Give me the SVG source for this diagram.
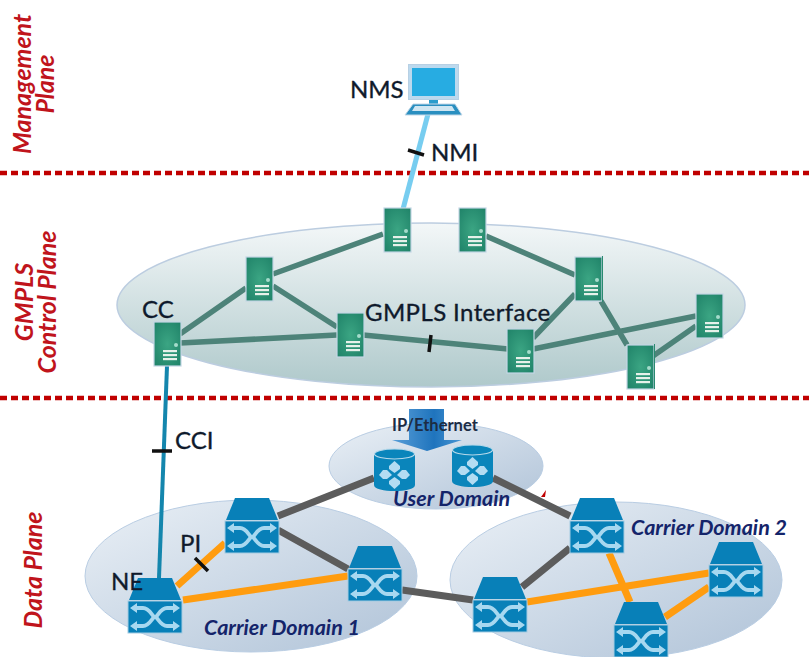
<svg xmlns="http://www.w3.org/2000/svg" xmlns:xlink="http://www.w3.org/1999/xlink" width="809" height="657" viewBox="0 0 809 657">
<style>
text{font-family:Lato,"Open Sans","Liberation Sans",sans-serif}
.lab{font-size:24px;fill:#0f1a2c;font-weight:400;stroke:#0f1a2c;stroke-width:.35}
.plane{font-size:25px;font-weight:700;font-style:italic;fill:#c0141c;text-anchor:middle}
.dom{font-size:21.500px;font-weight:700;font-style:italic;fill:#14246a}
.sep{stroke:#c00000;stroke-width:4.500;stroke-dasharray:7 4;fill:none}
.cp{stroke:#4d8379;stroke-width:5.500;fill:none}
.gr{stroke:#5c5c5c;stroke-width:7;fill:none}
.or{stroke:#ff9c0f;stroke-width:7;fill:none}
.tick{stroke:#111;stroke-width:3.500;fill:none}
.dome{fill:url(#gd);stroke:#b9cde3;stroke-width:1}
</style>
<defs>
<linearGradient id="gc" x1="0" y1="0" x2="0" y2="1"><stop offset="0" stop-color="#f3f7f8"/><stop offset="1" stop-color="#afc9cb"/></linearGradient>
<linearGradient id="gd" x1="0" y1="0" x2="1" y2="1"><stop offset="0" stop-color="#eaf0f6"/><stop offset="1" stop-color="#b0c3d8"/></linearGradient>
<linearGradient id="ga" x1="0" y1="0" x2="1" y2="0"><stop offset="0" stop-color="#5a9fd8"/><stop offset="0.6" stop-color="#1f74bd"/><stop offset="1" stop-color="#4b97d4"/></linearGradient>
<radialGradient id="gs" cx="0.5" cy="0.5" r="0.7"><stop offset="0" stop-color="#3ba583"/><stop offset="1" stop-color="#1f8268"/></radialGradient>
<symbol id="server" viewBox="0 0 27 44" width="27" height="44" overflow="visible">
<rect x="0" y="0" width="27" height="44" fill="url(#gs)" stroke="#c4d6e4" stroke-width="1.200"/>
<circle cx="22" cy="23" r="2" fill="#a5dccb"/>
<rect x="9" y="28" width="14" height="2.200" fill="#e6f1ea"/>
<rect x="9" y="32" width="14" height="2.200" fill="#e6f1ea"/>
<rect x="9" y="36" width="14" height="2.200" fill="#e6f1ea"/>
</symbol>
<symbol id="router" viewBox="0 0 54 55" width="54" height="55" overflow="visible">
<path d="M10 0H44L53 22H1Z" fill="#0880b8"/>
<rect x="0" y="23" width="54" height="32" fill="#0880b8" stroke="#a3cbe2" stroke-width="1"/>
<g fill="none" stroke="#a7d8f0" stroke-width="3.800">
<path d="M6 30H15C22 30 24 39 27 39C30 39 32 30 39 30H48"/>
<path d="M6 48H15C22 48 24 39 27 39C30 39 32 48 39 48H48"/>
</g>
<path fill="#a7d8f0" d="M2 30L9 25V35ZM2 48L9 43V53ZM52 30L45 25V35ZM52 48L45 43V53Z"/>
</symbol>
<symbol id="db" viewBox="0 0 41 42" width="41" height="42" overflow="visible">
<path d="M0 6V36C0 44 41 44 41 36V6Z" fill="#0a85bb"/>
<ellipse cx="20.500" cy="5" rx="20" ry="5" fill="#0a85bb" stroke="#b7d9ea" stroke-width="1.200"/>
<g fill="#b3dcf2">
<path d="M20.500 12L26 17V20L20.500 24L15 20V17Z"/>
<path d="M20.500 40L26 35V32L20.500 28L15 32V35Z"/>
<path d="M5 26L9 21H13L18 26L13 30H9Z"/>
<path d="M36 26L32 21H28L23 26L28 30H32Z"/>
</g>
</symbol>
</defs>
<rect width="809" height="657" fill="#fff"/>

<g id="domains">
<ellipse id="control-plane-area" cx="431" cy="305" rx="314" ry="82" fill="url(#gc)" stroke="#bccde0" stroke-width="1.500"/>
<ellipse id="user-domain-area" cx="436" cy="466" rx="107" ry="43" class="dome"/>
<ellipse id="carrier-1-area" cx="251" cy="576" rx="166" ry="76" class="dome"/>
<ellipse id="carrier-2-area" cx="616" cy="580" rx="166" ry="78" class="dome"/>
</g>

<path class="sep" d="M0 173H809"/>
<path class="sep" d="M0 398H809"/>

<g id="connectors">
<path d="M428 114L397 232" fill="none" stroke="#77cdf0" stroke-width="5"/>
<path d="M167 366L159 578" fill="none" stroke="#1486ad" stroke-width="4"/>
<path class="cp" d="M180 334L246 288M273 274L383 234M273 286L337 327M180 343L337 335M363 335L508 349M486 236L575 275M533 338L575 294M533 349L696 316M601 301L627 345M653 356L696 326"/>
<path class="gr" d="M278 516L374 478M278 530L348 569M402 590L473 600M493 478L570 516M522 587L570 548"/>
<path class="or" d="M177 586L225 543M183 600L348 576M527 602L709 573M609 553L630 602M665 617L709 587"/>
<path class="tick" d="M408 150L424 155M152 451L172 451M195 558L208 571M431 335L429 352"/>
<path d="M541 497L546 490L545 497Z" fill="#c00000"/>
</g>

<g id="nms">
<rect x="408.500" y="64.500" width="50" height="35" fill="#bcd9ee" stroke="#b7d0e4"/>
<rect x="412" y="68" width="43" height="28" fill="#27ace2"/>
<rect x="429" y="100" width="9" height="4" fill="#2a9ccc"/>
<path d="M413 104H455L462 115H405Z" fill="#2a8fc0" stroke="#c3d8e8"/>
<path d="M415 106H452L455 111H412Z" fill="#cfe6f2"/>
<text class="lab" x="350" y="98">NMS</text>
</g>

<use id="cc" xlink:href="#server" href="#server" x="154" y="322"/>
<use id="srv-2" xlink:href="#server" href="#server" x="246" y="257"/>
<use id="srv-3" xlink:href="#server" href="#server" x="384" y="208"/>
<use id="srv-4" xlink:href="#server" href="#server" x="337" y="313"/>
<use id="srv-5" xlink:href="#server" href="#server" x="459" y="208"/>
<g id="srv-6"><use xlink:href="#server" href="#server" x="575" y="257"/><path d="M602.500 256V302" stroke="#2a8a70" fill="none"/></g>
<use id="srv-7" xlink:href="#server" href="#server" x="507" y="329"/>
<use id="srv-8" xlink:href="#server" href="#server" x="696" y="294"/>
<g id="srv-9"><use xlink:href="#server" href="#server" x="627" y="345"/><path d="M654.500 344V389" stroke="#2a8a70" fill="none"/></g>

<g id="ip-arrow"><path d="M409 409H444V440H462L427 451L392 440H409Z" fill="url(#ga)"/></g>
<use id="user-router-1" xlink:href="#db" href="#db" x="374" y="449"/>
<use id="user-router-2" xlink:href="#db" href="#db" x="452" y="445"/>

<use id="ne" xlink:href="#router" href="#router" x="128" y="578"/>
<use id="ne-2" xlink:href="#router" href="#router" x="225" y="498"/>
<use id="ne-3" xlink:href="#router" href="#router" x="348" y="546"/>
<use id="ne-4" xlink:href="#router" href="#router" x="570" y="498"/>
<use id="ne-5" xlink:href="#router" href="#router" x="473" y="577"/>
<use id="ne-6" xlink:href="#router" href="#router" x="709" y="542"/>
<use id="ne-7" xlink:href="#router" href="#router" x="614" y="602"/>

<g id="labels">
<text class="lab" x="431" y="161">NMI</text>
<text class="lab" x="142" y="318">CC</text>
<text class="lab" x="365" y="321" style="letter-spacing:.4px">GMPLS Interface</text>
<text class="lab" x="175" y="449">CCI</text>
<text class="lab" x="180" y="552">PI</text>
<text class="lab" x="111" y="590">NE</text>
<text x="392" y="431" font-size="16.500" font-weight="700" fill="#1c2c44">IP/Ethernet</text>
<text class="dom" x="393" y="506">User Domain</text>
<text class="dom" x="204" y="635">Carrier Domain 1</text>
<text class="dom" x="631" y="535">Carrier Domain 2</text>
<text class="plane" transform="translate(31 84) rotate(-90)"><tspan x="0" y="0">Management</tspan><tspan x="0" y="23">Plane</tspan></text>
<text class="plane" transform="translate(33 302) rotate(-90)"><tspan x="0" y="0">GMPLS</tspan><tspan x="0" y="23">Control Plane</tspan></text>
<text class="plane" transform="translate(42 570) rotate(-90)">Data Plane</text>
</g>
</svg>
